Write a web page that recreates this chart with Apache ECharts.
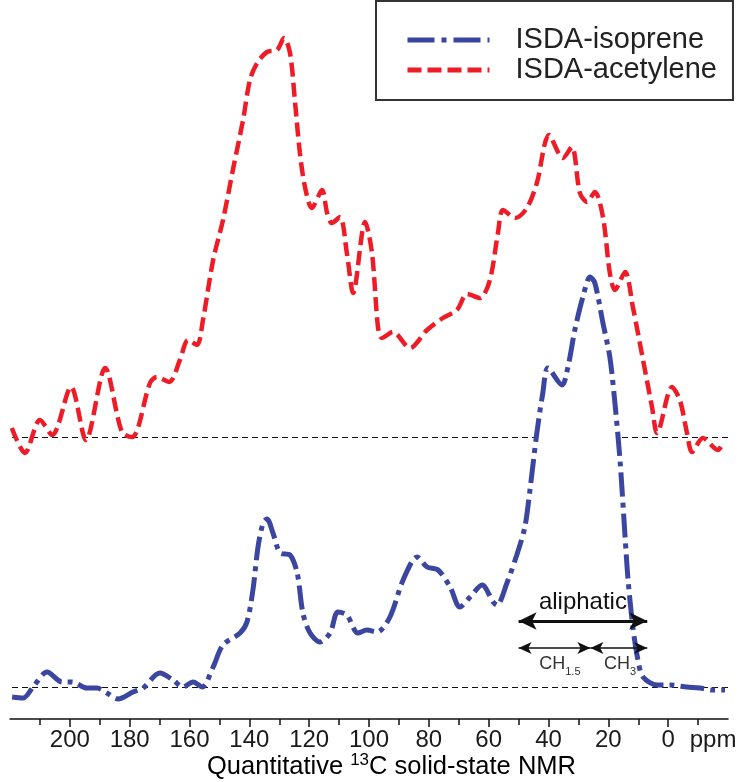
<!DOCTYPE html>
<html>
<head>
<meta charset="utf-8">
<script src="https://cdn.jsdelivr.net/npm/echarts@6/dist/echarts.min.js"></script>
<style>
  html, body { margin: 0; padding: 0; background: #fff; }
  #chart { width: 738px; height: 782px; }
</style>
</head>
<body>
<div id="chart"></div>
<script>
// 13C solid-state NMR spectra (chemical shift in ppm, intensity in arbitrary units)
const isopreneShift = [219.3, 215.6, 212.3, 207.6, 202.6, 199.3, 194.3, 190.9, 187.6, 183.9, 178.9, 175.5,
  169.9, 165.5, 162.2, 158.8, 155.8, 152.1, 148.8, 143.1, 140.8, 138.8, 137.1, 135.4, 134.1, 132.1,
  129.7, 126.4, 124.0, 122.1, 119.7, 116.4, 113.0, 110.4, 107.4, 103.7, 100.7, 97.3, 93.0, 88.6,
  83.9, 80.6, 76.9, 72.9, 69.6, 66.2, 62.2, 58.5, 57.2, 53.9, 50.6, 47.9, 46.2, 43.9, 41.9, 40.2,
  35.5, 33.5, 31.2, 28.5, 26.1, 24.5, 21.8, 19.5, 17.8, 16.1, 14.4, 13.4, 11.8, 10.1, 8.4, 3.7,
  -0.6, -6.3, -10.6, -14.6, -19.0];
const isopreneIntensity = [-10, -11, 0, 15, 5, 5, -1, -1, -6, -12, -5, -1,
  14, 7, 0, 5, 0, 20, 42, 54, 65, 97, 140, 164, 168, 154,
  134, 132, 114, 74, 54, 45, 54, 75, 72, 54, 57, 55, 70, 107,
  130, 120, 117, 100, 80, 90, 102, 85, 82, 104, 132, 160, 197, 254, 294, 319,
  302, 320, 357, 390, 410, 404, 364, 330, 284, 227, 150, 107, 60, 27, 10, 2,
  2, 0, -1, -3, -3];

const acetyleneShift = [219.4, 215.0, 210.0, 205.9, 199.6, 194.6, 188.2, 182.6, 179.2, 173.2, 170.9, 166.8,
  163.2, 160.5, 157.5, 155.5, 152.1, 148.8, 145.5, 142.1, 139.8, 137.4, 134.1, 130.7, 128.4, 126.4,
  124.7, 123.1, 121.4, 119.1, 115.7, 114.0, 112.4, 109.7, 107.4, 105.3, 101.3, 99.0, 97.0, 95.7,
  92.0, 86.3, 80.6, 75.3, 70.6, 67.2, 62.9, 59.6, 56.9, 55.2, 51.2, 47.2, 43.9, 39.8, 35.2, 32.2,
  29.5, 27.1, 24.5, 21.8, 19.5, 17.8, 14.4, 11.8, 8.4, 5.4, 3.7, -1.3, -3.9, -6.3, -8.0, -11.6,
  -16.6, -18.3];
const acetyleneIntensity = [9, -16, 17, 2, 50, -3, 69, 5, 0, 54, 60, 55,
  77, 97, 92, 117, 177, 217, 267, 317, 357, 374, 385, 387, 399, 384,
  334, 284, 250, 229, 247, 224, 214, 220, 184, 144, 215, 184, 110, 99,
  105, 89, 107, 119, 127, 143, 139, 157, 204, 227, 219, 229, 254, 302, 279, 290,
  244, 235, 245, 220, 164, 147, 165, 130, 77, 30, 4, 50, 37, 4, -15, -1,
  -13, -6];

// vertical offset of the acetylene trace above the isoprene trace
const acetyleneOffset = 250;

// axis ticks (ppm)
const majorTickValues = [200, 180, 160, 140, 120, 100, 80, 60, 40, 20, 0];
const minorTickValues = [210, 190, 170, 150, 130, 110, 90, 70, 50, 30, 10, -10];
const unitLabelValue = -15;

// region markers (ppm) and their heights
const aliphaticRange = [50, 7];
const ch15Range = [50, 26];
const ch3Range = [26, 7];
const aliphaticArrowY = 66;
const subArrowY = 39;

const FONT = 'Liberation Sans, Arial, Helvetica, sans-serif';
const BLUE = '#3a46a0';
const RED = '#ee1c26';
const BLUE_DASH = [24, 6, 5, 6];
const RED_DASH = [14, 6];

const isopreneData = isopreneShift.map((x, i) => [x, isopreneIntensity[i]]);
const acetyleneData = acetyleneShift.map((x, i) => [x, acetyleneIntensity[i] + acetyleneOffset]);

const chart = echarts.init(document.getElementById('chart'), null, { renderer: 'canvas' });

const baseline = { color: '#111', width: 1.2, type: [6, 4] };

chart.setOption({
  animation: false,
  backgroundColor: '#fff',
  grid: { left: 10, right: 10, top: 0, bottom: 63, containLabel: false, outerBoundsMode: 'none' },
  legend: {
    data: [
      { name: 'ISDA-isoprene', lineStyle: { color: BLUE, width: 5, type: [27, 7, 5, 7] } },
      { name: 'ISDA-acetylene', lineStyle: { color: RED, width: 5, type: [14, 6] } }
    ],
    orient: 'vertical',
    left: 376,
    top: 1,
    itemWidth: 82,
    itemHeight: 14,
    itemGap: 0,
    itemStyle: { opacity: 0 },
    padding: [24, 16, 15, 29],
    borderColor: '#333',
    borderWidth: 2,
    textStyle: {
      fontFamily: FONT, fontSize: 29, color: '#222', lineHeight: 30,
      padding: [0, 0, 0, 21]
    }
  },
  xAxis: [
    {
      type: 'value',
      min: -20, max: 220, interval: 20,
      inverse: true,
      position: 'bottom',
      splitLine: { show: false },
      axisLine: { show: true, onZero: false, lineStyle: { color: '#111', width: 1.5 } },
      axisTick: {
        show: true, inside: false, length: 8,
        customValues: majorTickValues,
        lineStyle: { color: '#111', width: 1.5 }
      },
      axisLabel: {
        show: true,
        customValues: majorTickValues.concat([unitLabelValue]),
        margin: 9,
        fontFamily: FONT, fontSize: 24, color: '#1a1a1a',
        formatter: v => (v === unitLabelValue ? 'ppm' : String(v))
      }
    },
    {
      type: 'value',
      min: -20, max: 220, interval: 10,
      inverse: true,
      position: 'bottom',
      offset: 0,
      splitLine: { show: false },
      axisLine: { show: false, onZero: false },
      axisTick: {
        show: true, length: 6,
        customValues: minorTickValues,
        lineStyle: { color: '#111', width: 1.5 }
      },
      axisLabel: { show: false }
    }
  ],
  yAxis: {
    type: 'value',
    min: -32, max: 687,
    show: false,
    splitLine: { show: false }
  },
  graphic: [
    {
      type: 'text',
      left: 207,
      top: 752,
      style: {
        text: '{a|Quantitative }{b|13}{a|C solid-state NMR}',
        rich: {
          a: { fontFamily: FONT, fontSize: 25.5, color: '#1a1a1a', lineHeight: 28, verticalAlign: 'bottom' },
          b: { fontFamily: FONT, fontSize: 17, color: '#1a1a1a', lineHeight: 28, verticalAlign: 'top', padding: [0, 0, 8, 0] }
        }
      }
    }
  ],
  series: [
    {
      // white fill under the isoprene trace; hides the upper baseline behind the peak
      name: 'isoprene-fill',
      type: 'line',
      data: isopreneData,
      smooth: 0.3,
      symbol: 'none',
      silent: true,
      z: 1,
      lineStyle: { width: 0, opacity: 0 },
      areaStyle: { color: '#ffffff', opacity: 1, origin: 0 },
      markLine: {
        silent: true, symbol: 'none', z: 2,
        label: { show: false },
        lineStyle: baseline,
        data: [{ yAxis: 0 }]
      }
    },
    {
      name: 'ISDA-isoprene',
      type: 'line',
      data: isopreneData,
      smooth: 0.3,
      symbol: 'none',
      z: 3,
      lineStyle: { color: BLUE, width: 5, type: BLUE_DASH },
      itemStyle: { color: BLUE },
      markLine: {
        silent: true, z: 10,
        label: { show: false },
        symbol: ['arrow', 'arrow'],
        data: [
          [
            { coord: [aliphaticRange[0], aliphaticArrowY], symbolSize: [13, 18], lineStyle: { width: 3, color: '#111', type: 'solid' } },
            { coord: [aliphaticRange[1], aliphaticArrowY], symbolSize: [13, 18] }
          ],
          [
            { coord: [ch15Range[0], subArrowY], symbolSize: [9, 13], lineStyle: { width: 1.5, color: '#111', type: 'solid' } },
            { coord: [ch15Range[1], subArrowY], symbolSize: [9, 13] }
          ],
          [
            { coord: [ch3Range[0], subArrowY], symbolSize: [9, 13], lineStyle: { width: 1.5, color: '#111', type: 'solid' } },
            { coord: [ch3Range[1], subArrowY], symbolSize: [9, 13] }
          ]
        ]
      },
      markPoint: {
        silent: true, z: 10,
        symbol: 'circle', symbolSize: 1,
        itemStyle: { color: 'rgba(0,0,0,0)' },
        data: [
          {
            coord: [28.5, 85],
            label: {
              show: true, position: 'inside', formatter: 'aliphatic',
              fontFamily: FONT, fontSize: 24, color: '#111'
            }
          },
          {
            coord: [36.2, 21],
            label: {
              show: true, position: 'inside', formatter: '{m|CH}{s|1.5}',
              rich: {
                m: { fontFamily: FONT, fontSize: 18, color: '#333', verticalAlign: 'top', lineHeight: 22 },
                s: { fontFamily: FONT, fontSize: 11, color: '#333', verticalAlign: 'bottom', lineHeight: 22 }
              }
            }
          },
          {
            coord: [16.1, 21],
            label: {
              show: true, position: 'inside', formatter: '{m|CH}{s|3}',
              rich: {
                m: { fontFamily: FONT, fontSize: 18, color: '#333', verticalAlign: 'top', lineHeight: 22 },
                s: { fontFamily: FONT, fontSize: 11, color: '#333', verticalAlign: 'bottom', lineHeight: 22 }
              }
            }
          }
        ]
      }
    },
    {
      name: 'ISDA-acetylene',
      type: 'line',
      data: acetyleneData,
      smooth: 0.3,
      symbol: 'none',
      z: 4,
      lineStyle: { color: RED, width: 4.5, type: RED_DASH },
      itemStyle: { color: RED },
      markLine: {
        silent: true, symbol: 'none', z: 0,
        label: { show: false },
        lineStyle: baseline,
        data: [{ yAxis: acetyleneOffset }]
      }
    }
  ]
});
</script>
</body>
</html>
